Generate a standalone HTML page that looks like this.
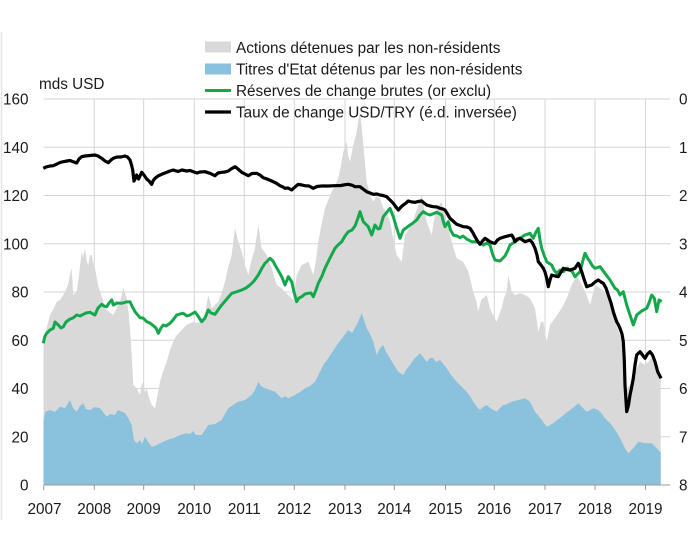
<!DOCTYPE html>
<html><head><meta charset="utf-8">
<style>
html,body{margin:0;padding:0;background:#fff;}
svg{display:block;}
text{font-family:"Liberation Sans",Arial,sans-serif;font-size:15.3px;fill:#1a1a1a;}
</style></head>
<body>
<svg width="700" height="555" viewBox="0 0 700 555" xmlns="http://www.w3.org/2000/svg">
<rect x="0" y="0" width="700" height="555" fill="#fff"/>
<line x1="1.5" y1="32" x2="1.5" y2="520" stroke="#e6e6e6" stroke-width="1.5"/>
<!-- gridlines -->
<g stroke="#d6d6d6" stroke-width="1">
<line x1="43.5" y1="99" x2="670" y2="99"/>
<line x1="43.5" y1="147.25" x2="670" y2="147.25"/>
<line x1="43.5" y1="195.5" x2="670" y2="195.5"/>
<line x1="43.5" y1="243.75" x2="670" y2="243.75"/>
<line x1="43.5" y1="292" x2="670" y2="292"/>
<line x1="43.5" y1="340.25" x2="670" y2="340.25"/>
<line x1="43.5" y1="388.5" x2="670" y2="388.5"/>
<line x1="43.5" y1="436.75" x2="670" y2="436.75"/>
<line x1="94.3" y1="99" x2="94.3" y2="485"/>
<line x1="143.7" y1="99" x2="143.7" y2="485"/>
<line x1="194.3" y1="99" x2="194.3" y2="485"/>
<line x1="244.3" y1="99" x2="244.3" y2="485"/>
<line x1="294.3" y1="99" x2="294.3" y2="485"/>
<line x1="345" y1="99" x2="345" y2="485"/>
<line x1="394.3" y1="99" x2="394.3" y2="485"/>
<line x1="445.5" y1="99" x2="445.5" y2="485"/>
<line x1="494.3" y1="99" x2="494.3" y2="485"/>
<line x1="545" y1="99" x2="545" y2="485"/>
<line x1="595" y1="99" x2="595" y2="485"/>
<line x1="645.5" y1="99" x2="645.5" y2="485"/>
</g>
<!-- gray area (total) -->
<polygon fill="#d9d9d9" points="43.5,485 43.5,342 46,330 50,315 53,310 56.7,301.7 60,300 63.3,295 66,290 68,285 70,275 71.7,268 73.3,295 76.7,291.7 79,275 81.7,251.7 83,258 85,248.3 87,262 88.3,265 90,255 91.7,255 93,262 95,268.3 98,285 100,291.7 103,300 105,308.3 109,312 113.3,315 117,308 120,301.7 123.3,288.3 126.7,298.3 128.5,312 130,328.3 132,360 133.3,385 136.7,388.3 140,395 141.5,385 143.3,381.7 145,392 146.7,388.3 149,398 151.7,405 155,408.3 157,398 160,381.7 163,372 166.7,361.7 170,350 173.3,341.7 176,336 180,331.7 186.7,325 193.3,321.7 197,323 201.7,321.7 205,315 208.3,295 211.7,308.3 215,305 218.3,301.7 222,292 225,281.7 228,268 231.7,255 233.5,240 235,228.3 238.3,241.7 241.7,251.7 245,265 248.3,275 251,262 255,248.3 258.3,225 261.7,248.3 266.7,255 271.7,268.3 276.7,285 281.7,288.3 285,292 288.3,295 293.3,300 296.7,275 301.7,265 308.3,261.7 313.3,275 316,260 318.3,241.7 322,222 325,208.3 331.7,191.7 335,186 338.3,178.3 341,165 343.3,151.7 346.7,141.7 348,155 350,161.7 353.3,145 356.7,131.7 358.5,120 360,112 361.5,125 363.3,145 366.7,181.7 370,195 373.3,201.7 376.5,196 380,198.3 383.3,208.3 386.5,212 390,221.7 393.5,240 396.7,255 401.7,261.7 405,235 408,230 411.7,225 415,215 418.3,205 421.7,195 424,208 426.7,221.7 431.7,235 434,220 436.7,208.3 441.7,201.7 444,212 446.7,221.7 451.7,241.7 456.7,258.3 463.3,261.7 468.3,271.7 473.3,291.7 476,300 478.3,311.7 481,300 483.3,298.3 486.7,295 490,308.3 493,315 496.7,321.7 499,315 501.7,308.3 504,298 506.7,291.7 508.3,275 511.7,291.7 515,295 520,293.3 525,295 530,298.3 535,308.3 538.3,331.7 541,322 543.3,321.7 546.7,341.7 550,325 555,318.3 561.7,308.3 566.7,298.3 571.7,285 576.7,275 581.7,285 586.7,295 590,305 595,285 600,288.3 605,291.7 610,305 615,321.7 620,335 623.3,351.7 626.7,388.3 630,385 635,371.7 640,361.7 645,365 651.7,358.3 656.7,368.3 660,378.3 660.7,378.3 660.7,485"/>
<!-- blue area -->
<polygon fill="#8ac1dc" points="43.5,485 43.5,422 45,412 50,410 55,412 60,406.7 65,408 70,400 73,408 76.7,411.7 80,406 83.3,403.3 86,409 90,410 95,407 100,408.3 103,412 106.7,416.7 110,414 115,415 118,410 121.7,411.7 125,413 128.3,418.3 131.7,425 133.5,438 135,441.7 137.5,443 140,440 142,444 145,436.7 148,442 151.7,446.7 155,446 160,443.3 165,441 170,439 173.3,438.3 180,435 186.7,433.3 190,434 193,431 196,435 201.7,435 205,430 208.3,425 215,424 221.7,420 225,414 228.3,408.3 233,405 238.3,401.7 245,400 251.7,395 255,390 258.3,381.7 261,386 265,388.3 270,390 275,391.7 281.7,398.3 285,396 288.3,398.3 295,395 300,392 305,388.3 310,386 315,381.7 320,371.7 324,364 328.3,358.3 333,351 338.3,343.3 343,337 348.3,330 352,333 356.7,325 361.7,313.3 364,320 366.7,328.3 370,334 373.3,341.7 376.7,355 380,348 383.3,345 386,352 390,358.3 394,365 398.3,371.7 403.3,375 406,370 410,365 415,358 420,353.3 423,357 426.7,361.7 430,358 433.3,358.3 436,362 440,360 446.7,368.3 451,375 456.7,381.7 461,386 466.7,391.7 470,396 473.3,401.7 477,407 480,410 483,407 486.7,405 490,408 496.7,411.7 500,408 503.3,405 505,405 511.7,401.7 518.3,400 525,398.3 530,401.7 535,411.7 541.7,420 546.7,426.7 553.3,423.3 557,420 561.7,416.7 566,413 570,410 574,407 578.3,403.3 582,407 586.7,411.7 593.3,408.3 598.3,410 602,414 605,418.3 611.7,425 615,430 618.3,435 622,442 625,448.3 628.3,453.3 633.3,448.3 638.3,441.7 645,443.3 651.7,443.3 656.7,448.3 660,451.7 660.7,452 660.7,485"/>
<!-- axis -->
<line x1="43.5" y1="485" x2="670" y2="485" stroke="#9a9a9a" stroke-width="1"/>
<g stroke="#9a9a9a" stroke-width="1">
<line x1="43.7" y1="485" x2="43.7" y2="490"/>
<line x1="94.3" y1="485" x2="94.3" y2="490"/>
<line x1="143.7" y1="485" x2="143.7" y2="490"/>
<line x1="194.3" y1="485" x2="194.3" y2="490"/>
<line x1="244.3" y1="485" x2="244.3" y2="490"/>
<line x1="294.3" y1="485" x2="294.3" y2="490"/>
<line x1="345" y1="485" x2="345" y2="490"/>
<line x1="394.3" y1="485" x2="394.3" y2="490"/>
<line x1="445.5" y1="485" x2="445.5" y2="490"/>
<line x1="494.3" y1="485" x2="494.3" y2="490"/>
<line x1="545" y1="485" x2="545" y2="490"/>
<line x1="595" y1="485" x2="595" y2="490"/>
<line x1="645.5" y1="485" x2="645.5" y2="490"/>
</g>
<!-- green reserves -->
<polyline fill="none" stroke="#14a84c" stroke-width="3" stroke-linejoin="round" points="43.3,343.3 45,336 46.7,333.3 50,330 53.3,328.3 55,322 58.3,325 61,328 63.3,326.7 66,322 70,319 73,318 76.7,315 80,316 83.3,314.3 86,313 90,312.3 93,314 95,315 98,308 101.7,304.3 104,306 106.7,306.7 109,303 111.7,300 113.3,305 117,303 121.7,303.3 126,302 130,301.7 132,306 135,311.7 140,317.7 143,318 146.7,321.7 150,323 153.3,325.7 156,328 158.3,333.3 161,328 163.3,325 166,326 170,323.3 173,320 176.7,315 180,314 183.3,313.3 187,316 190,315 195,312 198,316 201.7,321.7 205,318 208.3,310 211,313 215,314.3 218,310 221.7,305 226,300 231.7,293.3 236,292 241.7,290 246,288 250,285 254,281 258.3,275 262,268 265,263.3 270,258.3 273,261 275,265 278,270 281.7,276.7 285,285 288.3,276.7 291.7,281.7 294,292 296.7,301.7 299,298 301.7,296.7 305,294 308.3,293.3 311,293 313.3,296.7 316,290 318.3,283.3 322,276 325,268.3 330,258 335,248.3 338,245 341.7,241.7 345,236 348.3,231.7 352,230 355,226 358,218 360,211.7 363.3,221.7 368.3,226.7 371.7,235 375,225 378,229 380,228.3 383.3,216.7 387,212 390,208.3 393.3,216.7 396.7,228.3 400,238.3 403.3,230 406,228 410,225 413,223 416.7,220 420,215 423.3,211.7 427,214 430,215 436.7,212.3 441.7,215 443.5,222 445,226.7 448.3,221.7 450.5,230 453.3,235 457,236 460,237.7 463,236 466.7,239 471.7,241.7 476.7,241.7 480,243 483.3,245 487,243 490,245 492.5,254 495,260 500,261 505,256 508,250 510,245 515,241.7 520,238.3 525,235 530,233.3 533.3,238.3 536,232 538.3,228.3 540,240 541.7,248.3 544,255 546.7,261.7 551.7,265 554,270 556.7,273.3 560,270 563.3,271.7 567,268 570,270 572.5,272 575,276.7 580,271.7 582.5,262 585,253.3 587.5,258 590,261.7 592.5,266 595,268.3 600,266.7 605,273.3 610,280 615,288.3 617.5,290 620,295 623.3,291.7 626.7,305 630,315 633.3,325 636.7,315 641.7,311 646.7,308.3 649,303 651.7,295 654.3,298.3 656.7,311.7 659,300 661.7,301.7"/>
<!-- black USD/TRY -->
<polyline fill="none" stroke="#000" stroke-width="3.2" stroke-linejoin="round" points="43.3,168.3 46,167 50,166 53.3,165.7 57,164 60,162.5 63.3,161.7 67,161 70,160.5 73.3,161.7 76.7,163 79,159 81.7,156.7 85,156 90,155.5 95,155 98,156 101.7,158.3 105,161 108.3,162.7 111,160 113.3,158.3 117,157 121,157 125,156 127.5,157 130,160 131.5,165 132.7,170 134,181 135.5,178 136.7,175 138.5,179 140,176 141.7,172.3 144,175 146.7,179 149,181 151.7,184.3 153,181 155,178.3 158,176 161.7,174.3 165,173 170,171 173.3,170 178,171.5 182,170 186.7,171 190,170.5 193.3,171.7 197,173 200,172 205,171.7 210,173.3 215,175.7 218,173 221.7,172.3 225,172 228.3,171 231,169 235,166.7 238,169 241.7,172.3 245,174 248.3,175.7 252,173.5 256.7,173.3 260,175 263.3,177.7 267,179 271.7,181 276,183 280,185.7 283,187 285,188.3 288,188 291.7,190 295,187 298.3,184.3 302,185 305,185.7 309,186 313.3,188.3 317,186.5 321.7,186 328,186 335,185.7 341,185.5 345,184.7 348.3,184.3 352,185.2 355,186.7 360,186.7 363,189 366.7,191.7 370,193 373.3,194.3 377,194 380,195 383,195.5 386.7,196.7 390,200 393.3,203.3 396,207 398.3,210 401,207 403.3,205 406,203 408.3,201 412,202 415,202.3 418,201.5 421.7,201 424,203 426.7,205 430,206 433.3,206.7 437,207 440,208.3 443,209 445,210 447.5,214 450,218.3 453,221 456.7,224.3 460,225.5 463.3,226.7 467,227 470,228.3 472.5,232 475,236.7 477.5,241 480,244.3 482.5,241 485,238.3 487.5,240 490,241.7 493,243 495,243.3 497.5,240 500,238.3 502.5,237.5 505,236.7 511.7,235 513.5,238 515,241.7 517.5,239 520,238.3 522.5,240 525,241.7 530,240 532.5,243 535,248.3 537,255 538.3,261.7 541,265 543.3,268.3 545,272 546.7,278.3 548.3,286.7 550,280 551.7,275 555,276 558.3,276.7 561,272 563.3,268.3 567,269.5 570,270 575,268.3 578.3,263.3 580,267 581.7,271.7 584,279 586.7,286.7 590,285.5 591.7,285 595,282 598.3,280 601,282 603.3,283.3 606,288 608.3,295 611,303 613.3,311.7 615,317 616.7,321.7 618.5,325 620,328.3 622,334 623.3,341.7 624.3,360 625,385 626.7,411.7 628.5,405 630,395 631.5,388 633.3,378.3 635,365 636.7,355 640,351.7 642.5,355 645,358.3 647.5,354 650,351.7 652.5,355 655,361.7 657.7,371.7 661,378.3"/>
<!-- left axis labels -->
<g text-anchor="end">
<text x="28.5" y="104.5">160</text>
<text x="28.5" y="152.75">140</text>
<text x="28.5" y="201">120</text>
<text x="28.5" y="249.25">100</text>
<text x="28.5" y="297.5">80</text>
<text x="28.5" y="345.75">60</text>
<text x="28.5" y="394">40</text>
<text x="28.5" y="442.25">20</text>
<text x="28.5" y="490.5">0</text>
</g>
<!-- right axis labels -->
<g>
<text x="679" y="104.5">0</text>
<text x="679" y="152.75">1</text>
<text x="679" y="201">2</text>
<text x="679" y="249.25">3</text>
<text x="679" y="297.5">4</text>
<text x="679" y="345.75">5</text>
<text x="679" y="394">6</text>
<text x="679" y="442.25">7</text>
<text x="679" y="490.5">8</text>
</g>
<!-- x labels -->
<g text-anchor="middle">
<text x="44.5" y="514">2007</text>
<text x="94.3" y="514">2008</text>
<text x="143.7" y="514">2009</text>
<text x="194.3" y="514">2010</text>
<text x="244.3" y="514">2011</text>
<text x="294.3" y="514">2012</text>
<text x="345" y="514">2013</text>
<text x="394.3" y="514">2014</text>
<text x="445.5" y="514">2015</text>
<text x="494.3" y="514">2016</text>
<text x="545" y="514">2017</text>
<text x="595" y="514">2018</text>
<text x="645.5" y="514">2019</text>
</g>
<text x="39" y="89">mds USD</text>
<!-- legend -->
<rect x="205" y="41.5" width="26" height="11" fill="#d9d9d9"/>
<rect x="205" y="63.5" width="26" height="11" fill="#8ac1dc"/>
<line x1="205" y1="90.5" x2="231" y2="90.5" stroke="#14a84c" stroke-width="3"/>
<line x1="205" y1="112" x2="231" y2="112" stroke="#000" stroke-width="3.2"/>
<text x="236" y="53">Actions détenues par les non-résidents</text>
<text x="236" y="74.5">Titres d'Etat détenus par les non-résidents</text>
<text x="236" y="96">Réserves de change brutes (or exclu)</text>
<text x="236" y="117.5">Taux de change USD/TRY (é.d. inversée)</text>
</svg>
</body></html>
